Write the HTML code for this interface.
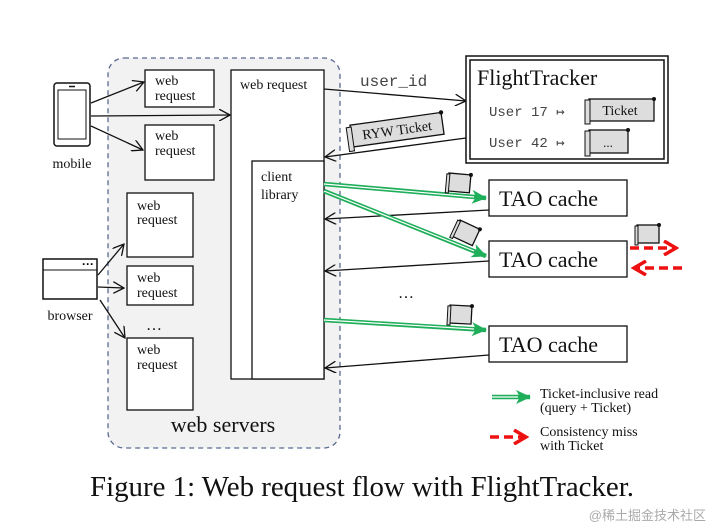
<!DOCTYPE html>
<html><head><meta charset="utf-8"><style>
html,body{margin:0;padding:0;background:#fff;width:712px;height:527px;overflow:hidden}
svg{display:block}
.s{font-family:"Liberation Serif",serif;fill:#111}
.m{font-family:"Liberation Mono",monospace;fill:#444}
</style></head><body>
<svg width="712" height="527" viewBox="0 0 712 527">
<defs>
<marker id="a" markerWidth="12" markerHeight="12" refX="11" refY="6" orient="auto" markerUnits="userSpaceOnUse"><path d="M0,0 L11,6 L0,12" fill="none" stroke="#111" stroke-width="1.3"/></marker>
<marker id="g" markerWidth="16" markerHeight="14" refX="14" refY="7" orient="auto" markerUnits="userSpaceOnUse"><path d="M0,0 L15,7 L0,14 L4,7Z" fill="#1fae5a"/></marker>
<marker id="r" markerWidth="16" markerHeight="16" refX="13" refY="8" orient="auto" markerUnits="userSpaceOnUse"><path d="M1,1 L13,8 L1,15" fill="none" stroke="#ee1111" stroke-width="3.5"/></marker>
<g id="scr"><rect x="0" y="0" width="22" height="18" fill="#ddd" stroke="#111" stroke-width="1.3"/><rect x="-2" y="1" width="3" height="19" fill="#ddd" stroke="#111"/><circle cx="22" cy="0" r="2" fill="#111"/></g>
</defs>
<rect x="108" y="58" width="232" height="390" rx="16" fill="#f2f2f2" stroke="#5a6a90" stroke-dasharray="5,4" stroke-width="1.3"/>
<rect x="54" y="83" width="36" height="63" rx="3" fill="#fff" stroke="#111" stroke-width="1.5"/>
<rect x="58" y="90" width="28" height="49" fill="#fff" stroke="#111"/>
<line x1="69" y1="86.5" x2="75" y2="86.5" stroke="#111" stroke-width="1.5"/>
<text class="s" x="72" y="168" font-size="14" text-anchor="middle">mobile</text>
<rect x="43" y="259" width="54" height="40" fill="#fff" stroke="#111" stroke-width="1.5"/>
<line x1="43" y1="270" x2="97" y2="270" stroke="#111"/>
<text x="88" y="268" font-size="12" font-family="Liberation Sans" text-anchor="middle" font-weight="bold">···</text>
<text class="s" x="70" y="320" font-size="14" text-anchor="middle">browser</text>
<g fill="#fff" stroke="#111" stroke-width="1.3">
<rect x="145" y="70" width="69" height="37"/><rect x="145" y="125" width="69" height="55"/>
<rect x="127" y="193" width="66" height="64"/><rect x="127" y="266" width="66" height="39"/>
<rect x="127" y="338" width="66" height="72"/>
<rect x="231" y="70" width="93" height="309"/><rect x="252" y="161" width="72" height="218"/>
</g>
<g class="s" font-size="14">
<text x="155" y="85">web</text><text x="155" y="100">request</text>
<text x="155" y="140">web</text><text x="155" y="155">request</text>
<text x="137" y="210">web</text><text x="137" y="224">request</text>
<text x="137" y="282">web</text><text x="137" y="297">request</text>
<text x="137" y="354">web</text><text x="137" y="369">request</text>
<text x="146" y="330" font-size="16">…</text>
<text x="240" y="89">web request</text>
<text x="261" y="181">client</text><text x="261" y="199">library</text>
<text x="223" y="432" font-size="22" text-anchor="middle">web servers</text>
</g>
<g stroke="#111" stroke-width="1.3" fill="none" marker-end="url(#a)">
<line x1="91" y1="103" x2="144" y2="82"/>
<line x1="91" y1="116" x2="230" y2="115"/>
<line x1="91" y1="126" x2="143" y2="150"/>
<line x1="98" y1="275" x2="124" y2="244"/>
<line x1="98" y1="287" x2="124" y2="288"/>
<line x1="100" y1="300" x2="125" y2="338"/>
<line x1="324" y1="89" x2="466" y2="101"/>
<line x1="466" y1="138" x2="325" y2="157"/>
<line x1="489" y1="210" x2="325" y2="219"/>
<line x1="489" y1="261" x2="325" y2="271"/>
<line x1="489" y1="355" x2="325" y2="368"/>
</g>
<text class="m" x="360" y="86" font-size="16">user_id</text>
<g transform="translate(395,130) rotate(-8)">
<rect x="-44" y="-11" width="92" height="22" fill="#ddd" stroke="#111" stroke-width="1.3"/>
<rect x="-48" y="-9" width="5" height="24" fill="#ddd" stroke="#111"/>
<circle cx="48" cy="-11" r="2.2" fill="#111"/>
<text class="s" x="2" y="5" font-size="14" text-anchor="middle">RYW Ticket</text>
</g>
<rect x="466" y="56" width="202" height="107" fill="#fff" stroke="#111" stroke-width="1.5"/>
<rect x="470" y="60" width="194" height="99" fill="none" stroke="#111" stroke-width="1.5"/>
<text class="s" x="477" y="85" font-size="22">FlightTracker</text>
<text class="m" x="489" y="116" font-size="14">User 17 ↦</text>
<text class="m" x="489" y="147" font-size="14">User 42 ↦</text>
<rect x="589" y="99" width="65" height="22" fill="#ddd" stroke="#111" stroke-width="1.3"/>
<rect x="585" y="100" width="5" height="24" fill="#ddd" stroke="#111"/><circle cx="654" cy="99" r="2" fill="#111"/>
<text class="s" x="620" y="115" font-size="14" text-anchor="middle">Ticket</text>
<rect x="589" y="130" width="39" height="23" fill="#ddd" stroke="#111" stroke-width="1.3"/>
<rect x="585" y="131" width="5" height="25" fill="#ddd" stroke="#111"/><circle cx="628" cy="130" r="2" fill="#111"/>
<text class="s" x="608" y="147" font-size="13" text-anchor="middle">...</text>
<g fill="#fff" stroke="#111" stroke-width="1.3">
<rect x="489" y="180" width="138" height="36"/><rect x="489" y="241" width="138" height="36"/><rect x="489" y="326" width="138" height="36"/>
</g>
<g class="s" font-size="22"><text x="499" y="206">TAO cache</text><text x="499" y="267">TAO cache</text><text x="499" y="352">TAO cache</text></g>
<g stroke="#1fae5a" stroke-width="4.5" fill="none" marker-end="url(#g)">
<line x1="324" y1="184" x2="486" y2="198"/><line x1="324" y1="191" x2="486" y2="256"/><line x1="324" y1="320" x2="486" y2="330"/>
<line x1="492" y1="397" x2="530" y2="397"/>
</g>
<g stroke="#fff" stroke-width="1.2" fill="none">
<line x1="324" y1="184" x2="474" y2="197"/><line x1="324" y1="191" x2="474" y2="251"/><line x1="324" y1="320" x2="474" y2="329"/>
<line x1="492" y1="397" x2="518" y2="397"/>
</g>
<use href="#scr" transform="translate(449,173) rotate(5)"/>
<use href="#scr" transform="translate(460,220) rotate(25)"/>
<use href="#scr" transform="translate(637,225)"/>
<use href="#scr" transform="translate(450,305) rotate(3)"/>
<g stroke="#ee1111" stroke-width="3.5" fill="none" stroke-dasharray="9,5">
<line x1="630" y1="248" x2="676" y2="248" marker-end="url(#r)"/>
<line x1="682" y1="268" x2="634" y2="268" marker-end="url(#r)"/>
<line x1="490" y1="437" x2="526" y2="437" marker-end="url(#r)"/>
</g>
<text class="s" x="398" y="298" font-size="16">…</text>
<g class="s" font-size="14">
<text x="540" y="398">Ticket-inclusive read</text><text x="540" y="412">(query + Ticket)</text>
<text x="540" y="436">Consistency miss</text><text x="540" y="450">with Ticket</text>
</g>
<text class="s" x="362" y="496" font-size="29" text-anchor="middle" textLength="544" lengthAdjust="spacingAndGlyphs">Figure 1: Web request flow with FlightTracker.</text>
<text x="706" y="520" font-size="13" fill="#aaa" text-anchor="end" font-family="'Liberation Sans','Noto Sans CJK SC',sans-serif">@稀土掘金技术社区</text>
</svg>
</body></html>
